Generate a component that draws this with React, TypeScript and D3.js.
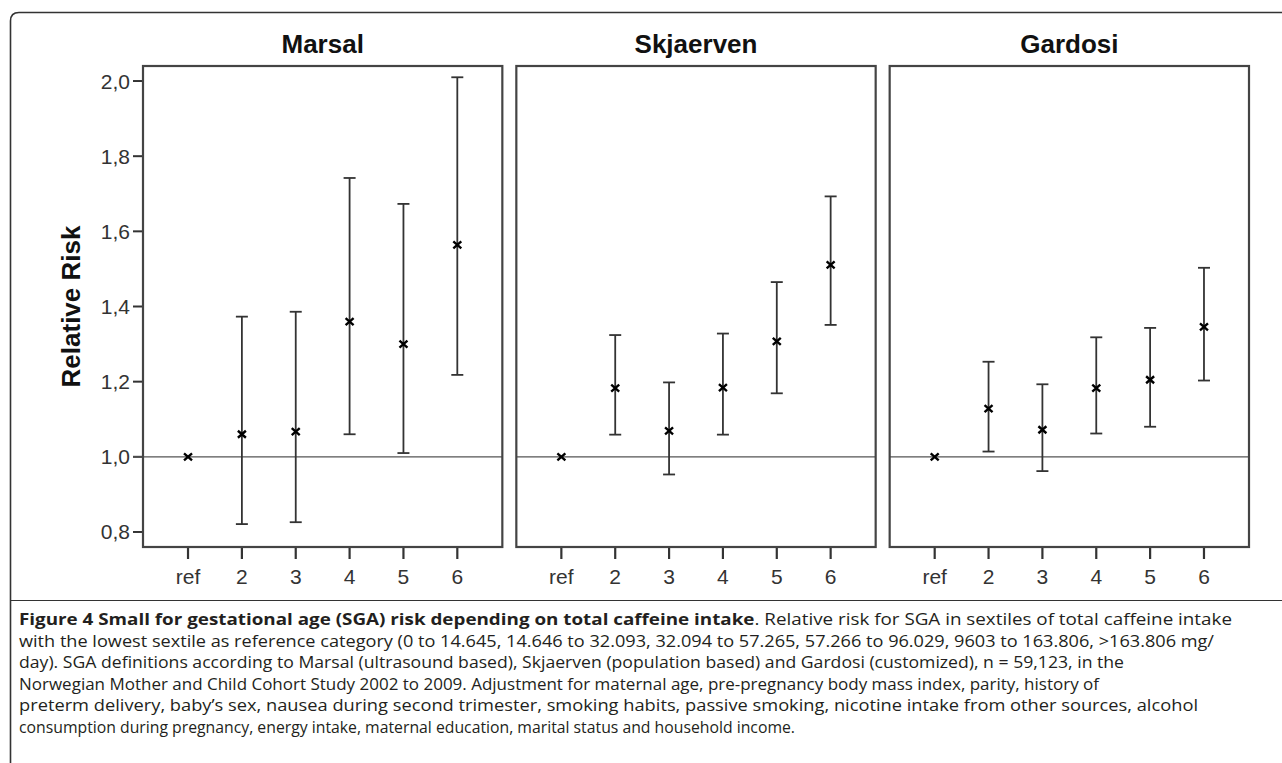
import React from "react";
import * as d3 from "d3";

const methods = ["Marsal", "Skjaerven", "Gardosi"];
const categories = ["ref", "2", "3", "4", "5", "6"];
const yTicks = [0.8, 1.0, 1.2, 1.4, 1.6, 1.8, 2.0];

const marsalRR = [1.0, 1.06, 1.067, 1.36, 1.3, 1.564];
const marsalLow = [null, 0.821, 0.826, 1.06, 1.01, 1.218];
const marsalHigh = [null, 1.373, 1.386, 1.742, 1.673, 2.01];

const skjaervenRR = [1.0, 1.183, 1.069, 1.184, 1.307, 1.511];
const skjaervenLow = [null, 1.059, 0.953, 1.059, 1.169, 1.351];
const skjaervenHigh = [null, 1.324, 1.198, 1.328, 1.465, 1.693];

const gardosiRR = [1.0, 1.128, 1.072, 1.183, 1.205, 1.346];
const gardosiLow = [null, 1.014, 0.962, 1.062, 1.08, 1.203];
const gardosiHigh = [null, 1.253, 1.193, 1.318, 1.343, 1.503];

const captionBold = "Figure 4 Small for gestational age (SGA) risk depending on total caffeine intake";
const captionLines = [
  ". Relative risk for SGA in sextiles of total caffeine intake",
  "with the lowest sextile as reference category (0 to 14.645, 14.646 to 32.093, 32.094 to 57.265, 57.266 to 96.029, 9603 to 163.806, >163.806 mg/",
  "day). SGA definitions according to Marsal (ultrasound based), Skjaerven (population based) and Gardosi (customized), n = 59,123, in the",
  "Norwegian Mother and Child Cohort Study 2002 to 2009. Adjustment for maternal age, pre-pregnancy body mass index, parity, history of",
  "preterm delivery, baby\u2019s sex, nausea during second trimester, smoking habits, passive smoking, nicotine intake from other sources, alcohol",
  "consumption during pregnancy, energy intake, maternal education, marital status and household income.",
];
const captionWidths = [1213, 1195, 1105, 1080, 1179, 776];

const series = [
  { rr: marsalRR, lo: marsalLow, hi: marsalHigh },
  { rr: skjaervenRR, lo: skjaervenLow, hi: skjaervenHigh },
  { rr: gardosiRR, lo: gardosiLow, hi: gardosiHigh },
];

export default function App() {
  const W = 1282;
  const H = 763;
  const plotTop = 66;
  const plotBottom = 547;
  const panel = d3.scaleBand<string>().domain(methods).range([143, 1249]).paddingInner(0.0375).paddingOuter(0);
  const y = d3.scaleLinear().domain([0.76, 2.04]).range([plotBottom, plotTop]);
  const bw = panel.bandwidth();
  const tickFont = "'Liberation Sans', Arial, sans-serif";
  const capW = 6;

  return (
    <div style={{ position: "absolute", left: 0, top: 0 }}>
      <svg width={W} height={H} style={{ display: "block", background: "#fff" }}>
        {/* outer frame */}
        <path d={`M10.5,${H + 5} L10.5,21 Q10.5,12.5 19,12.5 L${W + 5},12.5`} fill="none" stroke="#333" strokeWidth={1.6} />
        <line x1={10} x2={W + 5} y1={600.5} y2={600.5} stroke="#333" strokeWidth={1.2} />

        {/* y axis title */}
        <text
          transform={`translate(80,${(plotTop + plotBottom) / 2}) rotate(-90)`}
          textAnchor="middle"
          fontFamily={tickFont}
          fontWeight="bold"
          fontSize={26}
          fill="#111"
        >
          Relative Risk
        </text>

        {/* y ticks on first panel */}
        {yTicks.map((t) => (
          <g key={t}>
            <line x1={133} x2={143} y1={y(t)} y2={y(t)} stroke="#333" strokeWidth={2} />
            <text x={130} y={y(t) + 7.5} textAnchor="end" fontFamily={tickFont} fontSize={21} fill="#333">
              {d3.format(".1f")(t).replace(".", ",")}
            </text>
          </g>
        ))}

        {methods.map((m, i) => {
          const x0 = panel(m)!;
          const x = d3.scalePoint<string>().domain(categories).range([x0, x0 + bw]).padding(0.836);
          const s = series[i];
          return (
            <g key={m}>
              <text x={x0 + bw / 2} y={53} textAnchor="middle" fontFamily={tickFont} fontWeight="bold" fontSize={26} fill="#111">
                {m}
              </text>
              <line x1={i === 0 ? 133 : x0} x2={x0 + bw} y1={y(1)} y2={y(1)} stroke="#555" strokeWidth={1.2} />
              {categories.map((c, j) => {
                const cx = x(c)!;
                const lo = s.lo[j];
                const hi = s.hi[j];
                const cy = y(s.rr[j]);
                return (
                  <g key={c}>
                    <line x1={cx} x2={cx} y1={plotBottom} y2={plotBottom + 12} stroke="#333" strokeWidth={2.2} />
                    <text x={cx} y={584} textAnchor="middle" fontFamily={tickFont} fontSize={21} fill="#333">
                      {c}
                    </text>
                    {lo !== null && hi !== null && (
                      <g stroke="#333" strokeWidth={1.8}>
                        <line x1={cx} x2={cx} y1={y(lo)} y2={y(hi)} />
                        <line x1={cx - capW} x2={cx + capW} y1={y(lo)} y2={y(lo)} />
                        <line x1={cx - capW} x2={cx + capW} y1={y(hi)} y2={y(hi)} />
                      </g>
                    )}
                    <path
                      d={`M${cx - 4},${cy - 3.5} L${cx + 4},${cy + 3.5} M${cx - 4},${cy + 3.5} L${cx + 4},${cy - 3.5}`}
                      stroke="#000"
                      strokeWidth={2.4}
                      fill="none"
                    />
                  </g>
                );
              })}
              <rect x={x0} y={plotTop} width={bw} height={plotBottom - plotTop} fill="none" stroke="#444" strokeWidth={2.2} />
            </g>
          );
        })}

        {/* caption */}
        <g fontFamily="'Open Sans', 'Noto Sans', sans-serif" fontSize={16.5} fill="#231f20">
          {captionLines.map((line, k) => (
            <text key={k} x={19} y={625 + k * 21.5} textLength={captionWidths[k]} lengthAdjust="spacingAndGlyphs">
              {k === 0 && <tspan fontWeight="bold">{captionBold}</tspan>}
              {line}
            </text>
          ))}
        </g>
      </svg>
    </div>
  );
}
